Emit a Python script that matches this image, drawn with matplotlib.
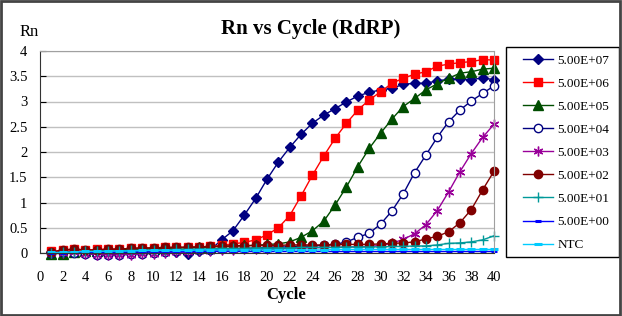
import matplotlib
matplotlib.use("Agg")
import matplotlib.pyplot as plt
from matplotlib.patches import Rectangle

plt.rcParams["font.family"] = ["Liberation Serif", "DejaVu Serif"]

# Zyklen 1..40
cycles = list(range(1, 41))

labels = ["5.00E+07", "5.00E+06", "5.00E+05", "5.00E+04", "5.00E+03",
          "5.00E+02", "5.00E+01", "5.00E+00", "NTC"]

e7 = [0.01, 0.02, 0.03, 0.02, 0.00, -0.01, 0.00, 0.01, 0.02, 0.03,
      0.03, 0.02, -0.02, 0.03, 0.06, 0.26, 0.44, 0.75, 1.08, 1.46,
      1.80, 2.09, 2.35, 2.57, 2.73, 2.86, 2.99, 3.11, 3.18, 3.23,
      3.26, 3.34, 3.36, 3.36, 3.41, 3.44, 3.45, 3.43, 3.47, 3.43]
e6 = [0.03, 0.05, 0.07, 0.06, 0.07, 0.08, 0.08, 0.09, 0.10, 0.10,
      0.11, 0.11, 0.11, 0.12, 0.13, 0.15, 0.18, 0.21, 0.26, 0.36,
      0.50, 0.74, 1.13, 1.54, 1.92, 2.27, 2.57, 2.83, 3.03, 3.19,
      3.36, 3.46, 3.54, 3.59, 3.70, 3.74, 3.77, 3.79, 3.83, 3.82]
e5 = [-0.01, -0.01, 0.02, 0.03, 0.04, 0.05, 0.06, 0.07, 0.08, 0.08,
      0.09, 0.10, 0.10, 0.11, 0.12, 0.13, 0.14, 0.15, 0.15, 0.17,
      0.18, 0.22, 0.31, 0.44, 0.63, 0.95, 1.31, 1.71, 2.07, 2.37,
      2.65, 2.90, 3.06, 3.23, 3.35, 3.46, 3.56, 3.59, 3.64, 3.66]
e4 = [0.00, 0.01, 0.00, -0.01, -0.03, -0.03, -0.03, -0.02, -0.01, 0.00,
      0.02, 0.03, 0.04, 0.05, 0.06, 0.07, 0.08, 0.09, 0.10, 0.11,
      0.12, 0.12, 0.13, 0.14, 0.15, 0.17, 0.22, 0.31, 0.39, 0.57,
      0.83, 1.17, 1.59, 1.94, 2.29, 2.60, 2.83, 3.01, 3.16, 3.31]
e3 = [0.00, 0.00, 0.01, -0.01, -0.03, -0.04, -0.04, -0.03, -0.02, -0.01,
      0.00, 0.01, 0.02, 0.03, 0.04, 0.05, 0.06, 0.07, 0.07, 0.08,
      0.09, 0.09, 0.10, 0.10, 0.11, 0.11, 0.12, 0.12, 0.13, 0.15,
      0.19, 0.27, 0.38, 0.56, 0.84, 1.21, 1.61, 1.97, 2.29, 2.55]
e2 = [0.02, 0.06, 0.08, 0.06, 0.06, 0.07, 0.08, 0.09, 0.10, 0.10,
      0.11, 0.11, 0.12, 0.12, 0.13, 0.13, 0.14, 0.14, 0.15, 0.15,
      0.15, 0.16, 0.16, 0.16, 0.16, 0.17, 0.17, 0.17, 0.17, 0.18,
      0.19, 0.20, 0.22, 0.28, 0.33, 0.42, 0.60, 0.86, 1.25, 1.62]
e1 = [0.00, 0.01, 0.02, 0.03, 0.03, 0.04, 0.04, 0.05, 0.05, 0.06,
      0.06, 0.07, 0.07, 0.08, 0.08, 0.09, 0.09, 0.09, 0.10, 0.10,
      0.10, 0.10, 0.11, 0.11, 0.11, 0.11, 0.12, 0.12, 0.12, 0.12,
      0.13, 0.13, 0.14, 0.14, 0.16, 0.19, 0.20, 0.22, 0.26, 0.34]
e0 = [0.00, 0.00, 0.01, 0.01, 0.01, 0.01, 0.02, 0.02, 0.02, 0.02,
      0.02, 0.02, 0.03, 0.03, 0.03, 0.03, 0.03, 0.03, 0.03, 0.03,
      0.03, 0.03, 0.03, 0.03, 0.03, 0.03, 0.03, 0.03, 0.03, 0.03,
      0.03, 0.03, 0.03, 0.03, 0.03, 0.03, 0.03, 0.03, 0.03, 0.03]
ntc = [0.01, 0.01, 0.02, 0.03, 0.03, 0.04, 0.04, 0.04, 0.05, 0.05,
       0.05, 0.05, 0.05, 0.06, 0.06, 0.06, 0.06, 0.06, 0.06, 0.06,
       0.06, 0.06, 0.06, 0.06, 0.06, 0.07, 0.07, 0.07, 0.07, 0.07,
       0.07, 0.07, 0.07, 0.07, 0.07, 0.07, 0.07, 0.07, 0.07, 0.07]

serien = [e7, e6, e5, e4, e3, e2, e1, e0, ntc]
farben = ["#000080", "#FF0000", "#004D00", "#000080", "#990099",
          "#800000", "#009999", "#0000FF", "#00CCFF"]
marker = ["D", "s", "^", "o", (6, 2, 0), "o", "+", "_", "_"]
msize = [5, 6, 6.5, 6, 7, 6, 7, 5, 6]

fig = plt.figure(figsize=(6.22, 3.16), dpi=100)
ax = fig.add_axes([40 / 622, 63 / 316, 454 / 622, 202 / 316])

handles = []
for i in range(len(serien)):
    mfc = "white" if i == 3 else farben[i]
    mew = 2.2 if marker[i] == "_" else 1.0
    h, = ax.plot(cycles, serien[i], color=farben[i], marker=marker[i],
                 markersize=msize[i], markerfacecolor=mfc,
                 markeredgecolor=farben[i], markeredgewidth=mew,
                 linewidth=1.0, clip_on=False, label=labels[i])
    handles.append(h)

ax.set_xlim(0, 40)
ax.set_ylim(0, 4)
ax.set_xticks(range(0, 41, 2))
ax.set_yticks([0, 0.5, 1, 1.5, 2, 2.5, 3, 3.5, 4])
ax.set_yticklabels(["0", "0.5", "1", "1.5", "2", "2.5", "3", "3.5", "4"])
ax.yaxis.grid(True, color="#C0C0C0", linewidth=1.0)
ax.set_axisbelow(True)
ax.tick_params(axis="x", direction="in", length=0, pad=13, labelsize=10.5)
ax.tick_params(axis="y", direction="in", length=4, pad=9, labelsize=10.5)
ax.spines["top"].set_color("#A0A0A0")
ax.spines["right"].set_color("#A0A0A0")
ax.spines["left"].set_color("#333333")
ax.spines["bottom"].set_color("#333333")

fig.text(0.5, 0.908, "Rn vs Cycle (RdRP)", ha="center", va="center",
         fontsize=15, fontweight="bold")
fig.text(0.047, 0.9, "Rn", ha="center", va="center", fontsize=12)
fig.text(0.46, 0.066, "Cycle", ha="center", va="center",
         fontsize=12, fontweight="bold")

# Legende ohne Rahmen, Rahmen wird extra gezeichnet
fig.legend(handles=handles, loc="upper left",
           bbox_to_anchor=(523 / 622, 1 - 54.5 / 316), frameon=False,
           fontsize=9.5, labelspacing=0.82, handlelength=2.3,
           handletextpad=0.3, borderpad=0, borderaxespad=0)
fig.patches.append(Rectangle((506 / 622, 1 - 257 / 316), 113 / 622, 210 / 316,
                             transform=fig.transFigure, fill=False,
                             edgecolor="black", linewidth=1.0))
# Rahmen um die ganze Grafik
fig.patches.append(Rectangle((0.002, 0.003), 0.995, 0.994,
                             transform=fig.transFigure, fill=False,
                             edgecolor="#444444", linewidth=2))

fig.savefig("out.png", dpi=100)
